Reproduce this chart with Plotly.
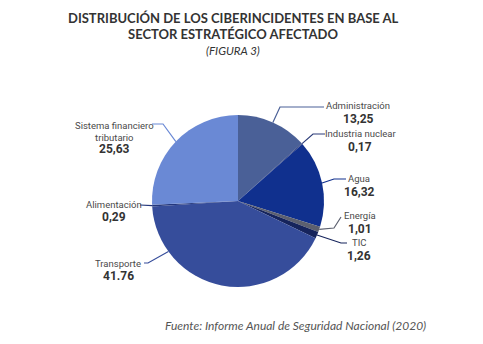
import math
import plotly.graph_objects as go

W, H = 483, 344

sectors = ["Administración", "Industria nuclear", "Agua", "Energía", "TIC",
           "Transporte", "Alimentación", "Sistema financiero<br>tributario"]
values = [13.25, 0.17, 16.32, 1.01, 1.26, 41.76, 0.29, 25.63]
value_labels = ["13,25", "0,17", "16,32", "1,01", "1,26", "41.76", "0,29", "25,63"]
colors = ["#4a6097", "#2b3b78", "#10308e", "#5c606f", "#16245c",
          "#364d9b", "#24377c", "#6a89d5"]

# pie geometry (pixels)
CX, CY, R = 238, 201, 86

def px(x):
    return x / W

def py(y):
    return 1 - y / H

label_layout = [
    dict(path=[(280, 107), (324, 107)], name=(358, 105), val=(358, 119)),
    dict(path=[(313, 134), (325, 134)], name=(360, 133), val=(360, 147)),
    dict(path=[(334, 179), (346, 179)], name=(359, 178), val=(359, 192)),
    dict(path=[(334, 228), (341, 217)], name=(360, 215), val=(360, 229)),
    dict(path=[(341, 243), (347, 243)], name=(359, 242), val=(359, 256)),
    dict(path=[(148, 263), (144, 263)], name=(118, 263), val=(118, 276), angle=234),
    dict(path=[(140, 205)], name=(114, 204), val=(114, 217)),
    dict(path=[(163, 124), (152, 124)], name=(114, 131), val=(114, 149)),
]

fig = go.Figure(go.Pie(
    labels=[s.replace("<br>", " ") for s in sectors],
    values=values,
    sort=False,
    direction="clockwise",
    rotation=0,
    marker=dict(colors=colors, line=dict(width=0)),
    textinfo="none",
    hoverinfo="label+value",
    showlegend=False,
    domain=dict(x=[px(CX - R), px(CX + R)], y=[py(CY + R), py(CY - R)]),
))

total = sum(values)
cum = 0
shapes = []
annotations = []
for i, v in enumerate(values):
    mid = (cum + v / 2) / total * 360
    cum += v
    lay = label_layout[i]
    ang = math.radians(lay.get("angle", mid))
    ax = CX + R * math.sin(ang)
    ay = CY - R * math.cos(ang)
    pts = [(ax, ay)] + lay["path"]
    path = "M " + " L ".join(f"{px(x)},{py(y)}" for x, y in pts)
    shapes.append(dict(type="path", path=path, xref="paper", yref="paper",
                       line=dict(color=colors[i], width=1.2)))
    nx, ny = lay["name"]
    annotations.append(dict(x=px(nx), y=py(ny), xref="paper", yref="paper",
                            text=sectors[i], showarrow=False,
                            xanchor="center", yanchor="middle",
                            font=dict(family="Roboto", size=9.5, color="#4a4a4a")))
    vx, vy = lay["val"]
    annotations.append(dict(x=px(vx), y=py(vy), xref="paper", yref="paper",
                            text=f"<b>{value_labels[i]}</b>", showarrow=False,
                            xanchor="center", yanchor="middle",
                            font=dict(family="Roboto", size=12, color="#333333")))

annotations += [
    dict(x=px(233), y=py(18), xref="paper", yref="paper", showarrow=False,
         text="<b>DISTRIBUCIÓN DE LOS CIBERINCIDENTES EN BASE AL</b>",
         xanchor="center", yanchor="middle",
         font=dict(family="Lato", size=13, color="#333333")),
    dict(x=px(233), y=py(34), xref="paper", yref="paper", showarrow=False,
         text="<b>SECTOR ESTRATÉGICO AFECTADO</b>",
         xanchor="center", yanchor="middle",
         font=dict(family="Lato", size=13, color="#333333")),
    dict(x=px(233), y=py(50), xref="paper", yref="paper", showarrow=False,
         text="<i>(FIGURA 3)</i>",
         xanchor="center", yanchor="middle",
         font=dict(family="Lato", size=11.5, color="#333333")),
    dict(x=px(295), y=py(325), xref="paper", yref="paper", showarrow=False,
         text="<i>Fuente: Informe Anual de Seguridad Nacional (2020)</i>",
         xanchor="center", yanchor="middle",
         font=dict(family="Lato", size=12, color="#555555")),
]

fig.update_layout(
    width=W, height=H,
    margin=dict(l=0, r=0, t=0, b=0),
    paper_bgcolor="white", plot_bgcolor="white",
    shapes=shapes, annotations=annotations,
)

fig.write_html("out.html")
